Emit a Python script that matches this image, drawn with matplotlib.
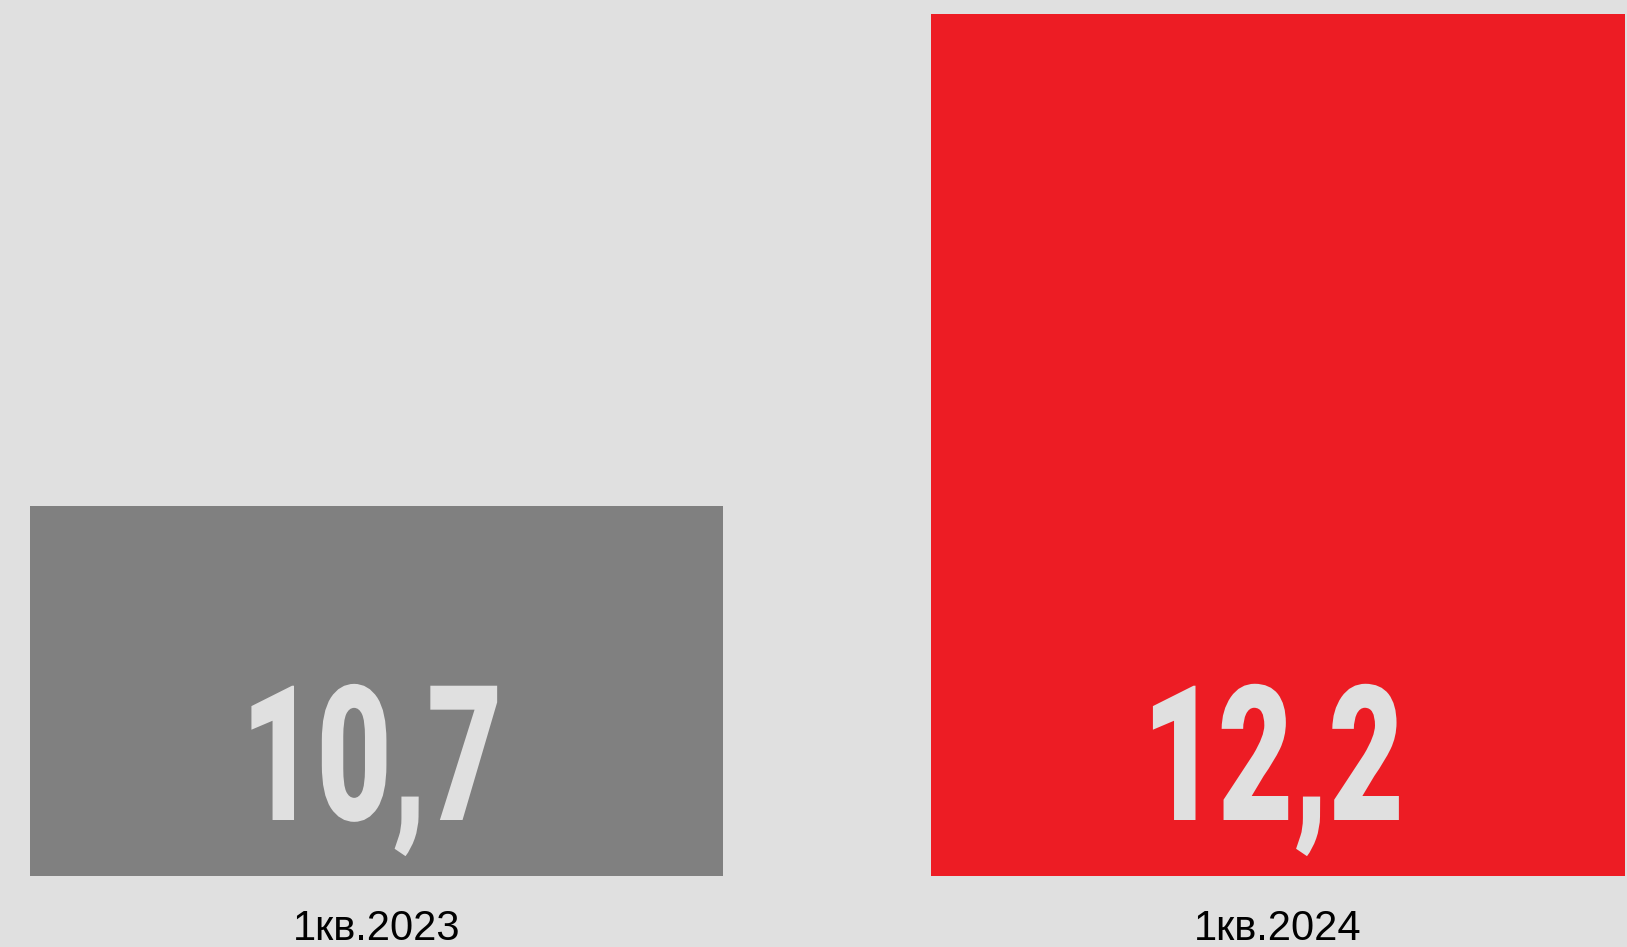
import matplotlib
matplotlib.use("Agg")
import matplotlib.pyplot as plt
from matplotlib.patheffects import AbstractPathEffect
from matplotlib.transforms import Affine2D

categories = ["1кв.2023", "1кв.2024"]
values = [10.7, 12.2]
value_labels = ["10,7", "12,2"]
colors = ["#808080", "#ed1c24"]

BG = "#e0e0e0"
W, H, DPI = 1627, 947, 100


class HScale(AbstractPathEffect):
    """Draw the text path compressed horizontally around its centre."""

    def __init__(self, sx=0.7, dx=0.0):
        super().__init__()
        self.sx = sx
        self.dx = dx

    def draw_path(self, renderer, gc, tpath, affine, rgbFace=None):
        ext = tpath.get_extents(affine)
        cx = (ext.x0 + ext.x1) / 2
        aff = affine + Affine2D().translate(-cx, 0).scale(self.sx, 1).translate(cx + self.dx, 0)
        renderer.draw_path(gc, tpath, aff, rgbFace)


fig = plt.figure(figsize=(W / DPI, H / DPI), dpi=DPI, facecolor=BG)
bottom_px = 876
ax = fig.add_axes([0, (H - bottom_px) / H, 1, bottom_px / H])
ax.set_facecolor(BG)

x = list(range(len(categories)))
ax.bar(x, values, width=0.769, color=colors, bottom=0)
ax.set_xlim(-0.4176, 1.3872)
ymin = 9.575
ax.set_ylim(ymin, 12.242)

for xi, lab in zip(x, value_labels):
    ax.annotate(lab, xy=(xi, ymin), xytext=(0, 56), textcoords="offset pixels",
                ha="center", va="baseline", color=BG, fontsize=136,
                family="Roboto", fontweight=900,
                path_effects=[HScale(0.69, -6)])

for xi, cat in zip(x, categories):
    ax.annotate(cat, xy=(xi, ymin), xytext=(0, -64), textcoords="offset pixels",
                ha="center", va="baseline", color="#000000", fontsize=30,
                family="Liberation Sans", annotation_clip=False)

ax.set_xticks([])
ax.set_yticks([])
for s in ax.spines.values():
    s.set_visible(False)

fig.savefig("out.png", dpi=DPI, facecolor=BG)
